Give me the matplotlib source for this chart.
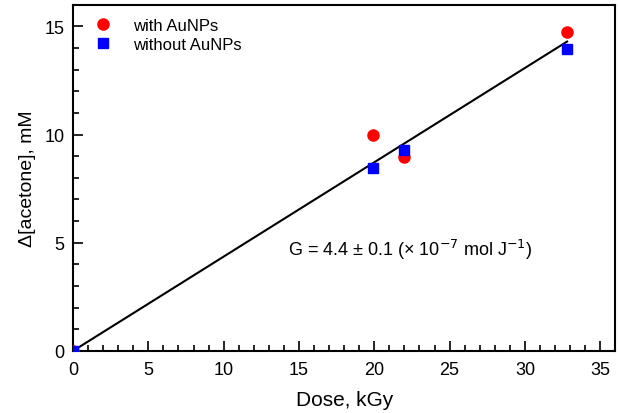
import matplotlib.pyplot as plt
from matplotlib.ticker import MultipleLocator

plt.rcParams['font.family'] = ['Liberation Sans', 'DejaVu Sans']

# datos
dosis = [0, 19.9, 22.0, 32.8]
con_aunps = [0, 10.0, 8.95, 14.75]
sin_aunps = [0, 8.45, 9.3, 13.95]
ajuste_x = [0, 32.8]
ajuste_y = [0, 14.3]

fig = plt.figure(figsize=(6.19, 4.14), dpi=100)
ax = fig.add_axes([0.118, 0.150, 0.876, 0.836])

ax.plot(ajuste_x, ajuste_y, color="black", lw=1.5, zorder=2)
ax.plot(dosis, con_aunps, "o", color="red", ms=8, mec="red", label="with AuNPs", zorder=3)
ax.plot(dosis, sin_aunps, "s", color="blue", ms=7, mec="blue", label="without AuNPs", zorder=3)

ax.set_xlim(0, 36)
ax.set_ylim(0, 16)
ax.xaxis.set_major_locator(MultipleLocator(5))
ax.xaxis.set_minor_locator(MultipleLocator(1))
ax.yaxis.set_major_locator(MultipleLocator(5))
ax.yaxis.set_minor_locator(MultipleLocator(1))
ax.tick_params(which="both", direction="in", top=False, right=False, labelsize=13)
ax.tick_params(axis="x", which="major", pad=7)
ax.tick_params(axis="y", which="major", pad=6)
ax.tick_params(which="major", length=7, width=1.2)
ax.tick_params(which="minor", length=4, width=1.2)
for s in ax.spines.values():
    s.set_linewidth(1.5)

ax.set_xlabel("Dose, kGy", fontsize=15, labelpad=9)
ax.set_ylabel("Δ[acetone], mM", fontsize=14, labelpad=6)

ax.text(14.3, 4.7, r"G = 4.4 ± 0.1 (× 10$^{-7}$ mol J$^{-1}$)", fontsize=13, va="center")

ax.legend(loc="upper left", frameon=False, fontsize=12, handletextpad=0.8,
          borderaxespad=0.5, labelspacing=0.25, borderpad=0.3,
          bbox_to_anchor=(0.0, 1.0))

plt.savefig("out.png", dpi=100)
